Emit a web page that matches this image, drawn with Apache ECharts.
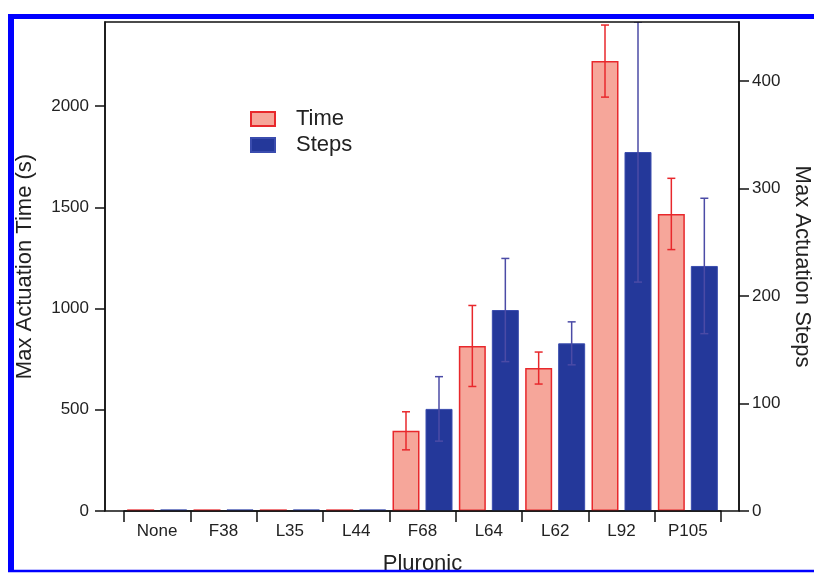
<!DOCTYPE html>
<html>
<head>
<meta charset="utf-8">
<script src="https://cdn.jsdelivr.net/npm/echarts@6/dist/echarts.min.js"></script>
<style>
html,body{margin:0;padding:0;background:#fff;}
#chart{width:814px;height:573px;}
</style>
</head>
<body>
<div id="chart"></div>
<script>
// ---- data ----
var categories = ['None', 'F38', 'L35', 'L44', 'F68', 'L64', 'L62', 'L92', 'P105'];
var timeValues = [8, 8, 8, 8, 396, 815, 706, 2222, 1467];
var timeErrors = [0, 0, 0, 0, 94, 200, 79, 178, 176];
var stepsValues = [1.5, 1.5, 1.5, 1.5, 95, 187, 156, 334, 228];
var stepsErrors = [0, 0, 0, 0, 30, 48, 20, 121, 63];
var timeTicks = [0, 500, 1000, 1500, 2000];
var stepsTicks = [0, 100, 200, 300, 400];

// ---- layout / style ----
var FONT = 'Liberation Sans, Arial, sans-serif';
var G = {left: 124, right: 93, top: 22, bottom: 62};
var W = 814, H = 573;
var BAR_W = 27, BAR_GAP = 6;
var RED = '#e8282c', RED_FILL = '#f6a69a', BLUE = '#24389a', BLUE_EDGE = '#3a4cae', BLUE_ERR = '#4b4ba6';

var chart = echarts.init(document.getElementById('chart'), null, {renderer: 'canvas'});

function errSeries(name, values, errs, yIdx, offset, color) {
  return {
    type: 'custom',
    name: name + ' err',
    yAxisIndex: yIdx,
    clip: true,
    z: 5,
    silent: true,
    data: values.map(function (v, i) { return [i, v, errs[i]]; }),
    renderItem: function (params, api) {
      var i = api.value(0), v = api.value(1), e = api.value(2);
      if (!e) return null;
      var top = api.coord([i, v + e]);
      var bot = api.coord([i, v - e]);
      var x = top[0] + offset;
      var cap = 4;
      var st = {stroke: color, lineWidth: 1.5};
      return {
        type: 'group',
        children: [
          {type: 'line', shape: {x1: x, y1: top[1], x2: x, y2: bot[1]}, style: st},
          {type: 'line', shape: {x1: x - cap, y1: top[1], x2: x + cap, y2: top[1]}, style: st},
          {type: 'line', shape: {x1: x - cap, y1: bot[1], x2: x + cap, y2: bot[1]}, style: st}
        ]
      };
    }
  };
}

var plotL = 105, plotR = 739, plotT = G.top, plotB = H - G.bottom;
var half = (BAR_W + BAR_GAP) / 2;
function plain(v) { return String(v); }

var option = {
  backgroundColor: '#fff',
  animation: false,
  textStyle: {fontFamily: FONT},
  grid: {left: G.left, right: G.right, top: G.top, bottom: G.bottom, containLabel: false, outerBoundsMode: 'none'},
  legend: {
    orient: 'vertical',
    left: 245, top: 103,
    icon: 'rect',
    itemWidth: 24, itemHeight: 14, itemGap: 4,
    data: ['Time', 'Steps'],
    textStyle: {fontSize: 22, color: '#222', fontFamily: FONT, padding: [0, 0, 0, 16]}
  },
  xAxis: {
    type: 'category',
    data: categories,
    boundaryGap: true,
    name: 'Pluronic',
    nameLocation: 'middle',
    nameGap: 42,
    nameTextStyle: {fontSize: 22, color: '#222', fontFamily: FONT},
    axisLine: {show: true, lineStyle: {color: '#111', width: 1.5}},
    axisTick: {show: true, inside: false, length: 11, alignWithLabel: false, lineStyle: {color: '#111', width: 1.5}},
    axisLabel: {fontSize: 17, color: '#222', margin: 12, fontFamily: FONT},
    splitLine: {show: false}
  },
  yAxis: [
    {
      type: 'value', position: 'left', offset: G.left - plotL,
      min: 0, max: 2415,
      name: 'Max Actuation Time (s)', nameLocation: 'middle', nameGap: 69,
      nameTextStyle: {fontSize: 22, color: '#222', fontFamily: FONT},
      axisLine: {show: true, lineStyle: {color: '#111', width: 1.5}},
      axisTick: {show: true, length: 10, customValues: timeTicks, lineStyle: {color: '#111', width: 1.5}},
      axisLabel: {fontSize: 17, color: '#222', margin: 16, customValues: timeTicks, formatter: plain, fontFamily: FONT},
      splitLine: {show: false}
    },
    {
      type: 'value', position: 'right', offset: plotR - (W - G.right),
      min: 0, max: 455,
      name: 'Max Actuation Steps', nameLocation: 'middle', nameGap: 49, nameRotate: -90,
      nameTextStyle: {fontSize: 22, color: '#222', fontFamily: FONT},
      axisLine: {show: true, lineStyle: {color: '#111', width: 1.5}},
      axisTick: {show: true, length: 10, customValues: stepsTicks, lineStyle: {color: '#111', width: 1.5}},
      axisLabel: {fontSize: 17, color: '#222', margin: 13, customValues: stepsTicks, formatter: plain, fontFamily: FONT},
      splitLine: {show: false}
    }
  ],
  series: [
    {
      name: 'Time', type: 'bar', yAxisIndex: 0, data: timeValues,
      barWidth: BAR_W, barGap: (BAR_GAP / BAR_W * 100) + '%',
      itemStyle: {color: RED_FILL, borderColor: RED, borderWidth: 1.5}
    },
    {
      name: 'Steps', type: 'bar', yAxisIndex: 1, data: stepsValues,
      barWidth: BAR_W,
      itemStyle: {color: BLUE, borderColor: BLUE_EDGE, borderWidth: 1}
    },
    errSeries('Time', timeValues, timeErrors, 0, -half, RED),
    errSeries('Steps', stepsValues, stepsErrors, 1, half, BLUE_ERR)
  ],
  graphic: [
    {type: 'rect', silent: true, z: 100, shape: {x: plotL, y: plotT, width: plotR - plotL, height: plotB - plotT},
     style: {fill: 'none', stroke: '#111', lineWidth: 1.5}},
    {type: 'line', silent: true, z: 100, shape: {x1: 11, y1: 14, x2: 11, y2: 572}, style: {stroke: '#0000ff', lineWidth: 6}},
    {type: 'line', silent: true, z: 100, shape: {x1: 8, y1: 16.5, x2: W, y2: 16.5}, style: {stroke: '#0000ff', lineWidth: 5}},
    {type: 'line', silent: true, z: 100, shape: {x1: 8, y1: 571, x2: W, y2: 571}, style: {stroke: '#0000ff', lineWidth: 2.5}}
  ]
};
chart.setOption(option);
</script>
</body>
</html>
